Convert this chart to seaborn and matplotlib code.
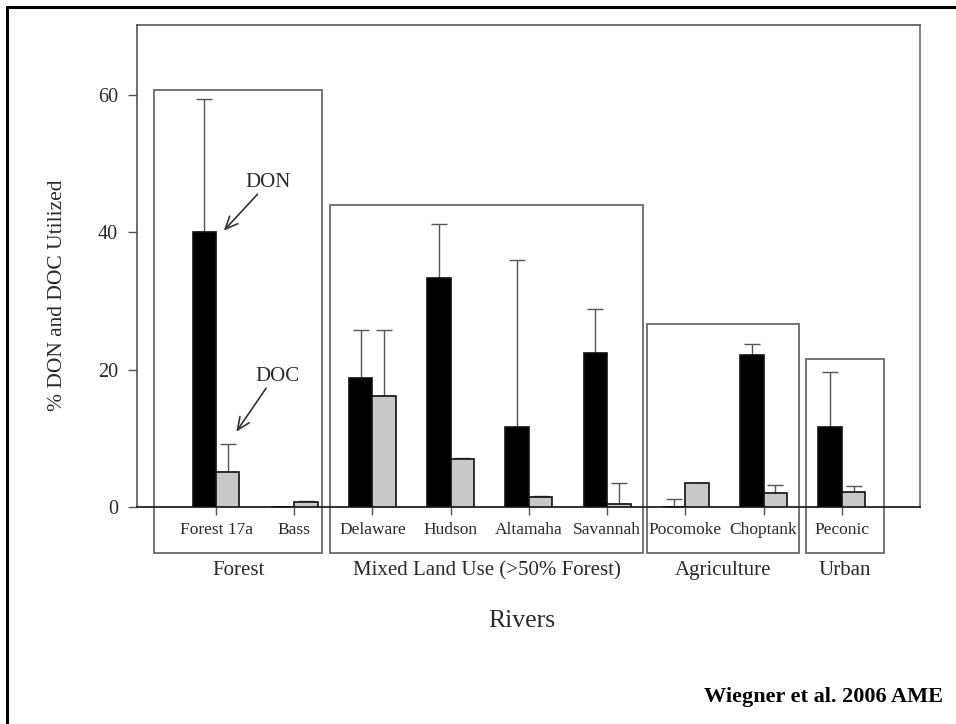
import numpy as np
import pandas as pd
import matplotlib
matplotlib.use("Agg")
import matplotlib.pyplot as plt
import seaborn as sns
from matplotlib.patches import Rectangle
from matplotlib.lines import Line2D

# ---- data ----
rivers = ["Forest 17a", "Bass", "Delaware", "Hudson", "Altamaha",
          "Savannah", "Pocomoke", "Choptank", "Peconic"]
don_values = [40.1, 0.0, 18.8, 33.3, 11.6, 22.5, 0.0, 22.2, 11.6]
don_err_top = [59.4, 0.0, 25.8, 41.2, 36.0, 28.8, 1.1, 23.7, 19.6]
doc_values = [5.05, 0.75, 16.1, 7.0, 1.5, 0.45, 3.45, 2.1, 2.2]
doc_err_top = [9.2, 0.85, 25.8, 7.1, 1.6, 3.5, 3.55, 3.2, 3.0]
groups = ["Forest", "Mixed Land Use (>50% Forest)", "Agriculture", "Urban"]
group_members = [[0, 1], [2, 3, 4, 5], [6, 7], [8]]
# group box extents (left pad, right pad, top) in data units
box_pads = [(-0.79, 0.355, 60.7), (-0.54, 0.46, 44.0), (-0.49, 0.45, 26.7), (-0.46, 0.54, 21.6)]
box_bottom = -6.75
yticks = [0, 20, 40, 60]

df = pd.DataFrame({
    "River": rivers * 2,
    "Measure": ["DON"] * len(rivers) + ["DOC"] * len(rivers),
    "Value": don_values + doc_values,
})

sns.set_style("white")
plt.rcParams["font.family"] = ["Liberation Serif", "DejaVu Serif"]
txt = "#2a2a2a"

fig = plt.figure(figsize=(9.56, 7.24), dpi=100)
ax = fig.add_axes([137 / 956, 1 - 507 / 724, (920 - 137) / 956, (507 - 25) / 724])

sns.barplot(data=df, x="River", y="Value", hue="Measure", order=rivers,
            hue_order=["DON", "DOC"], palette={"DON": "black", "DOC": "#c8c8c8"},
            width=0.6, gap=0, errorbar=None, legend=False, ax=ax,
            edgecolor="#111111", linewidth=1.2, zorder=3)

# error bars (upper only)
for cont, vals, tops in zip(ax.containers, [don_values, doc_values], [don_err_top, doc_err_top]):
    xs = [b.get_x() + b.get_width() / 2 for b in cont]
    up = [max(t - v, 0) for v, t in zip(vals, tops)]
    lo = [0] * len(vals)
    ax.errorbar(xs, vals, yerr=[lo, up], fmt="none", ecolor="#555555",
                elinewidth=1.0, capsize=6, capthick=1.0, zorder=2)

ax.set_xlim(-1.01, 9.0)
ax.set_ylim(0, 70.2)
ax.set_yticks(yticks)
ax.set_yticklabels([str(t) for t in yticks])
ax.set_xlabel("")
ax.set_ylabel("")
ax.tick_params(axis="y", direction="out", length=6.5, width=1, color="#555555",
               labelsize=14.5, labelcolor=txt, pad=7, left=True)
ax.tick_params(axis="x", direction="out", length=5.8, width=1, color="#555555",
               labelsize=12.5, labelcolor=txt, pad=5, bottom=True)
for s in ["left", "top"]:
    ax.spines[s].set_color("#555555")
    ax.spines[s].set_linewidth(1.2)
ax.spines["bottom"].set_color("#222222")
ax.spines["bottom"].set_linewidth(1.3)
ax.spines["right"].set_color("#888888")
ax.spines["right"].set_linewidth(1.5)

# group boxes and labels
for g, members, (lp, rp, top) in zip(groups, group_members, box_pads):
    left = min(members) + lp
    right = max(members) + rp
    ax.add_patch(Rectangle((left, box_bottom), right - left, top - box_bottom,
                           fill=False, ec="#6a6a6a", lw=1.3, clip_on=False, zorder=1))
    ax.text((left + right) / 2, -9.3, g, ha="center", va="center", fontsize=15,
            color=txt, clip_on=False)

# annotations
arrow = dict(arrowstyle="->,head_length=0.9,head_width=0.4",
             color="#333333", lw=1.2, shrinkA=0, shrinkB=0)
ax.annotate("", xy=(0.10, 40.25), xytext=(0.53, 45.55), arrowprops=arrow, zorder=5)
ax.text(0.66, 47.2, "DON", ha="center", va="center", fontsize=15, color=txt)
ax.annotate("", xy=(0.26, 10.97), xytext=(0.64, 17.3), arrowprops=arrow, zorder=5)
ax.text(0.78, 19.0, "DOC", ha="center", va="center", fontsize=15, color=txt)

fig.text(58 / 956, 1 - 295 / 724, "% DON and DOC Utilized", rotation=90,
         ha="center", va="center", fontsize=15.5, color=txt)
fig.text(522 / 956, 1 - 621 / 724, "Rivers", ha="center", va="center",
         fontsize=18.5, color=txt)
fig.text(943 / 956, 1 - 697 / 724, "Wiegner et al. 2006 AME", ha="right",
         va="center", fontsize=16, fontweight="bold", color="black")

# outer frame (top and left edges visible)
fig.add_artist(Line2D([7 / 956, 1.0], [1 - 7 / 724, 1 - 7 / 724], transform=fig.transFigure,
                      color="black", lw=2.2))
fig.add_artist(Line2D([7 / 956, 7 / 956], [0.0, 1 - 7 / 724], transform=fig.transFigure,
                      color="black", lw=2.2))

fig.savefig("out.png", dpi=100)
